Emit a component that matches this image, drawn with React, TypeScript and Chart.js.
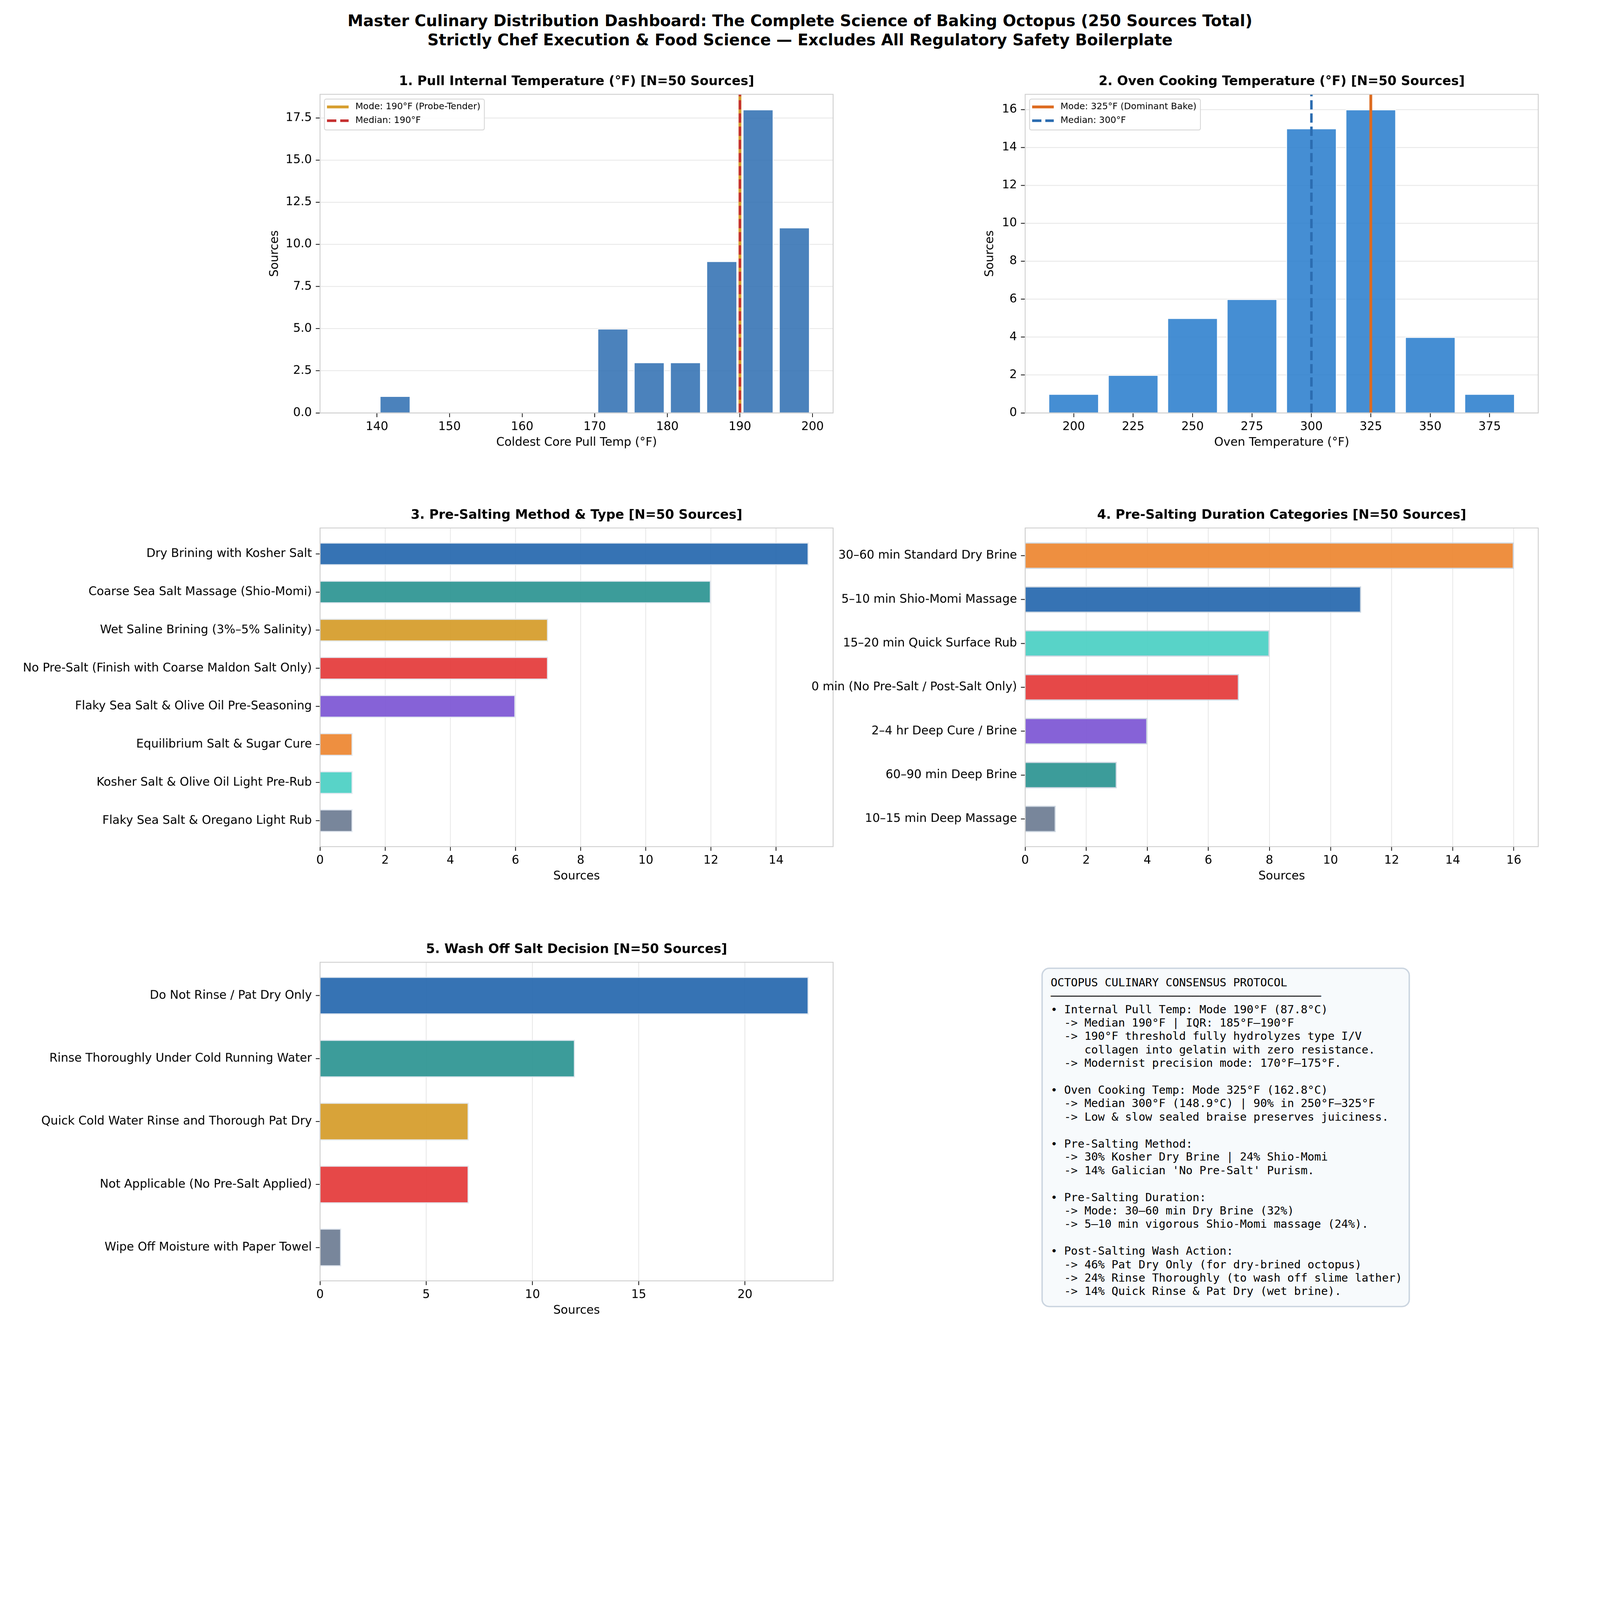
import { useEffect, useRef } from 'react';
import { Chart, registerables } from 'chart.js';

Chart.register(...registerables);

const FONT = 'DejaVu Sans';

// 1. pull temperature histogram (5°F bins, centres)
const pullBins = [142.5, 172.5, 177.5, 182.5, 187.5, 192.5, 197.5];
const pullCounts = [1, 5, 3, 3, 9, 18, 11];
const pullXTicks = [140, 150, 160, 170, 180, 190, 200];
const pullYTicks = [0, 2.5, 5, 7.5, 10, 12.5, 15, 17.5];
const pullYMax = 18.9;
const pullMode = 190;
const pullMedian = 190;

// 2. oven temperature
const ovenTemps = [200, 225, 250, 275, 300, 325, 350, 375];
const ovenCounts = [1, 2, 5, 6, 15, 16, 4, 1];
const ovenYTicks = [0, 2, 4, 6, 8, 10, 12, 14, 16];
const ovenYMax = 16.8;
const ovenMode = 325;
const ovenMedian = 300;

// 3. pre-salting method
const methodLabels = [
  'Dry Brining with Kosher Salt',
  'Coarse Sea Salt Massage (Shio-Momi)',
  'Wet Saline Brining (3%–5% Salinity)',
  'No Pre-Salt (Finish with Coarse Maldon Salt Only)',
  'Flaky Sea Salt & Olive Oil Pre-Seasoning',
  'Equilibrium Salt & Sugar Cure',
  'Kosher Salt & Olive Oil Light Pre-Rub',
  'Flaky Sea Salt & Oregano Light Rub',
];
const methodCounts = [15, 12, 7, 7, 6, 1, 1, 1];
const methodColors = ['#2b6cb0', '#319795', '#d69e2e', '#e53e3e', '#805ad5', '#ed8936', '#4fd1c5', '#718096'];
const methodXTicks = [0, 2, 4, 6, 8, 10, 12, 14];

// 4. pre-salting duration
const durationLabels = [
  '30–60 min Standard Dry Brine',
  '5–10 min Shio-Momi Massage',
  '15–20 min Quick Surface Rub',
  '0 min (No Pre-Salt / Post-Salt Only)',
  '2–4 hr Deep Cure / Brine',
  '60–90 min Deep Brine',
  '10–15 min Deep Massage',
];
const durationCounts = [16, 11, 8, 7, 4, 3, 1];
const durationColors = ['#ed8936', '#2b6cb0', '#4fd1c5', '#e53e3e', '#805ad5', '#319795', '#718096'];
const durationXTicks = [0, 2, 4, 6, 8, 10, 12, 14, 16];

// 5. wash off decision
const washLabels = [
  'Do Not Rinse / Pat Dry Only',
  'Rinse Thoroughly Under Cold Running Water',
  'Quick Cold Water Rinse and Thorough Pat Dry',
  'Not Applicable (No Pre-Salt Applied)',
  'Wipe Off Moisture with Paper Towel',
];
const washCounts = [23, 12, 7, 7, 1];
const washColors = ['#2b6cb0', '#319795', '#d69e2e', '#e53e3e', '#718096'];
const washXTicks = [0, 5, 10, 15, 20];

const summaryLines = [
  'OCTOPUS CULINARY CONSENSUS PROTOCOL',
  '────────────────────────────────────────',
  '• Internal Pull Temp: Mode 190°F (87.8°C)',
  '  -> Median 190°F | IQR: 185°F–190°F',
  '  -> 190°F threshold fully hydrolyzes type I/V',
  '     collagen into gelatin with zero resistance.',
  '  -> Modernist precision mode: 170°F–175°F.',
  '',
  '• Oven Cooking Temp: Mode 325°F (162.8°C)',
  '  -> Median 300°F (148.9°C) | 90% in 250°F–325°F',
  '  -> Low & slow sealed braise preserves juiciness.',
  '',
  '• Pre-Salting Method:',
  '  -> 30% Kosher Dry Brine | 24% Shio-Momi',
  "  -> 14% Galician 'No Pre-Salt' Purism.",
  '',
  '• Pre-Salting Duration:',
  '  -> Mode: 30–60 min Dry Brine (32%)',
  '  -> 5–10 min vigorous Shio-Momi massage (24%).',
  '',
  '• Post-Salting Wash Action:',
  '  -> 46% Pat Dry Only (for dry-brined octopus)',
  '  -> 24% Rinse Thoroughly (to wash off slime lather)',
  '  -> 14% Quick Rinse & Pat Dry (wet brine).',
];

const PAGE_W = 5700;
const PAGE_H = 4800;
const AX_W = 1828;
const AX_H = 1135;
const TITLE_H = 73;
const BOTTOM_H = 160;
const RIGHT_PAD = 80;
const GRID = 'rgba(190, 190, 190, 0.35)';
const TICK_FONT = { family: FONT, size: 42 };
const LABEL_FONT = { family: FONT, size: 42, lineHeight: '50px' };

// spines + legend drawn inside the plot area
const panelDecor = {
  id: 'panelDecor',
  afterDraw(chart: any) {
    const { ctx, chartArea: a } = chart;
    ctx.save();
    ctx.strokeStyle = '#cccccc';
    ctx.lineWidth = 3;
    ctx.strokeRect(a.left, a.top, a.right - a.left, a.bottom - a.top);

    const items = chart.data.datasets.filter((d: any) => d.type === 'line');
    if (items.length) {
      ctx.font = `32px "${FONT}"`;
      const textW = Math.max(...items.map((d: any) => ctx.measureText(d.label).width));
      const x0 = a.left + 16;
      const y0 = a.top + 17;
      const w = 110 + textW + 14;
      const h = 28 + 49 * (items.length - 1) + 33;
      ctx.beginPath();
      ctx.roundRect(x0, y0, w, h, 6);
      ctx.fillStyle = 'rgba(255,255,255,0.85)';
      ctx.fill();
      ctx.strokeStyle = '#d5d5d5';
      ctx.lineWidth = 3;
      ctx.stroke();
      items.forEach((d: any, i: number) => {
        const cy = y0 + 28 + i * 49;
        ctx.beginPath();
        ctx.setLineDash(d.borderDash || []);
        ctx.strokeStyle = d.borderColor;
        ctx.lineWidth = d.borderWidth;
        ctx.moveTo(x0 + 9, cy);
        ctx.lineTo(x0 + 86, cy);
        ctx.stroke();
        ctx.setLineDash([]);
        ctx.fillStyle = '#000';
        ctx.textBaseline = 'middle';
        ctx.textAlign = 'left';
        ctx.fillText(d.label, x0 + 110, cy);
      });
    }
    ctx.restore();
  },
};

function baseOptions(title: string) {
  return {
    responsive: false,
    animation: false,
    devicePixelRatio: 1,
    layout: { padding: { right: RIGHT_PAD }, autoPadding: false },
    plugins: {
      legend: { display: false },
      tooltip: { enabled: false },
      title: {
        display: true,
        text: title,
        fullSize: false,
        color: '#000',
        font: { family: FONT, size: 46, weight: 'bold', lineHeight: '56px' },
        padding: { top: 0, bottom: 17 },
      },
    },
  };
}

function tickAxis(ticks: number[], extra: any) {
  return {
    type: 'linear',
    offset: false,
    border: { display: false },
    grid: { display: true, offset: false, drawOnChartArea: false, tickLength: 15, tickWidth: 3, tickColor: '#222' },
    ticks: { font: TICK_FONT, color: '#000', padding: 10, maxRotation: 0, autoSkip: false },
    afterBuildTicks: (s: any) => {
      s.ticks = ticks.map((v) => ({ value: v }));
    },
    ...extra,
  };
}

const GRID_ON = { display: true, offset: false, color: GRID, lineWidth: 3, tickLength: 15, tickWidth: 3, tickColor: '#222' };

function histConfig(
  title: string, xTitle: string, bins: number[], counts: number[], color: string,
  xMin: number, xMax: number, xTicks: number[], yTicks: number[], yMax: number, yDigits: number,
  mode: number, modeLabel: string, modeColor: string, median: number, medianLabel: string, medianColor: string,
  yTitlePad: number,
) {
  const opts: any = baseOptions(title);
  opts.scales = {
    x: tickAxis(xTicks, {
      min: xMin,
      max: xMax,
      afterFit: (s: any) => { s.height = BOTTOM_H; },
      title: { display: true, text: xTitle, color: '#000', font: LABEL_FONT, padding: { top: 0, bottom: 29 } },
    }),
    y: tickAxis(yTicks, {
      min: 0,
      max: yMax,
      z: 1,
      grid: GRID_ON,
      ticks: { font: TICK_FONT, color: '#000', padding: 14, autoSkip: false, callback: (v: any) => Number(v).toFixed(yDigits) },
      afterFit: (s: any) => { s.width = 220; },
      title: { display: true, text: 'Sources', color: '#000', font: LABEL_FONT, padding: { top: yTitlePad, bottom: 0 } },
    }),
  };
  return {
    type: 'bar',
    data: {
      datasets: [
        {
          type: 'line',
          label: modeLabel,
          data: [{ x: mode, y: 0 }, { x: mode, y: yMax }],
          borderColor: modeColor,
          borderWidth: 10,
          pointRadius: 0,
          fill: false,
          order: 2,
        },
        {
          type: 'line',
          label: medianLabel,
          data: [{ x: median, y: 0 }, { x: median, y: yMax }],
          borderColor: medianColor,
          borderWidth: 9,
          borderDash: [33, 14],
          pointRadius: 0,
          fill: false,
          order: 1,
        },
        {
          type: 'bar',
          label: 'Sources',
          data: bins.map((b, i) => ({ x: b, y: counts[i] })),
          backgroundColor: color,
          borderColor: '#ffffff',
          borderWidth: 3,
          barPercentage: 0.85,
          categoryPercentage: 1,
          order: 3,
        },
      ],
    },
    options: opts,
    plugins: [panelDecor],
  };
}

function hbarConfig(
  title: string, labels: string[], counts: number[], colors: string[], xMax: number, xTicks: number[],
  leftW: number, edge: string,
) {
  const n = labels.length;
  const margin = 0.05 * (n - 1 + 0.6);
  const opts: any = baseOptions(title);
  opts.indexAxis = 'y';
  opts.scales = {
    x: tickAxis(xTicks, {
      min: 0,
      max: xMax,
      z: 1,
      grid: GRID_ON,
      afterFit: (s: any) => { s.height = BOTTOM_H; },
      title: { display: true, text: 'Sources', color: '#000', font: LABEL_FONT, padding: { top: 0, bottom: 29 } },
    }),
    y: tickAxis(labels.map((_, i) => i), {
      min: -0.3 - margin,
      max: n - 1 + 0.3 + margin,
      reverse: true,
      ticks: { font: TICK_FONT, color: '#000', padding: 14, autoSkip: false, callback: (v: any) => labels[v] ?? '' },
      afterFit: (s: any) => { s.width = leftW; },
    }),
  };
  return {
    type: 'bar',
    data: {
      datasets: [
        {
          label: 'Sources',
          data: labels.map((_, i) => ({ x: counts[i], y: i })),
          backgroundColor: colors.map((c) => c + 'f2'),
          borderColor: edge,
          borderWidth: 4,
          barPercentage: 0.6,
          categoryPercentage: 1,
        },
      ],
    },
    options: opts,
    plugins: [panelDecor],
  };
}

function ChartPanel({ left, top, leftW, config }: { left: number; top: number; leftW: number; config: () => any }) {
  const ref = useRef<HTMLCanvasElement>(null);
  useEffect(() => {
    if (!ref.current) return;
    const chart = new Chart(ref.current, config());
    return () => chart.destroy();
  }, []);
  return (
    <canvas
      ref={ref}
      width={leftW + AX_W + RIGHT_PAD}
      height={TITLE_H + AX_H + BOTTOM_H}
      style={{ position: 'absolute', left: left - leftW, top: top - TITLE_H }}
    />
  );
}

export default function App() {
  // fit the 5700x4800 figure into whatever CSS viewport the window gives
  const fit = Math.min(window.innerWidth / PAGE_W, window.innerHeight / PAGE_H) || 1;
  return (
    <div style={{ position: 'fixed', left: 0, top: 0, right: 0, bottom: 0, overflow: 'hidden', background: '#fff' }}>
      <div
        style={{
          position: 'absolute', left: 0, top: 0, width: PAGE_W, height: PAGE_H, background: '#fff',
          transform: `scale(${fit})`, transformOrigin: '0 0',
        }}
      >
        <div
          style={{
            position: 'absolute', left: 0, top: 39, width: PAGE_W, textAlign: 'center',
            fontFamily: FONT, fontWeight: 'bold', fontSize: 56, lineHeight: '69px', color: '#000',
          }}
        >
          <div>Master Culinary Distribution Dashboard: The Complete Science of Baking Octopus (250 Sources Total)</div>
          <div>Strictly Chef Execution &amp; Food Science — Excludes All Regulatory Safety Boilerplate</div>
        </div>

        <ChartPanel
          left={1140} top={336} leftW={220}
          config={() => histConfig(
            '1. Pull Internal Temperature (°F) [N=50 Sources]', 'Coldest Core Pull Temp (°F)',
            pullBins, pullCounts, 'rgba(43,108,176,0.85)', 132.16, 202.84, pullXTicks, pullYTicks, pullYMax, 1,
            pullMode, 'Mode: 190°F (Probe-Tender)', '#d69e2e', pullMedian, 'Median: 190°F', '#c53030', 34,
          )}
        />
        <ChartPanel
          left={3652} top={336} leftW={220}
          config={() => histConfig(
            '2. Oven Cooking Temperature (°F) [N=50 Sources]', 'Oven Temperature (°F)',
            ovenTemps, ovenCounts, 'rgba(49,130,206,0.9)', 179.56, 395.44, ovenTemps, ovenYTicks, ovenYMax, 0,
            ovenMode, 'Mode: 325°F (Dominant Bake)', '#dd6b20', ovenMedian, 'Median: 300°F', '#2b6cb0', 70,
          )}
        />
        <ChartPanel
          left={1140} top={1881} leftW={1100}
          config={() => hbarConfig('3. Pre-Salting Method & Type [N=50 Sources]', methodLabels, methodCounts, methodColors, 15.75, methodXTicks, 1100, '#e2e8f0')}
        />
        <ChartPanel
          left={3652} top={1881} leftW={820}
          config={() => hbarConfig('4. Pre-Salting Duration Categories [N=50 Sources]', durationLabels, durationCounts, durationColors, 16.8, durationXTicks, 820, '#cbd5e0')}
        />
        <ChartPanel
          left={1140} top={3428} leftW={1000}
          config={() => hbarConfig('5. Wash Off Salt Decision [N=50 Sources]', washLabels, washCounts, washColors, 24.15, washXTicks, 1000, '#e2e8f0')}
        />

        <pre
          style={{
            position: 'absolute', left: 3710, top: 3447, width: 1313, height: 1210, boxSizing: 'border-box', margin: 0,
            border: '5px solid #cbd5e0', borderRadius: 28, background: '#f7fafc',
            padding: '25px 0 0 28px', fontFamily: '"DejaVu Sans Mono"', fontSize: 40, lineHeight: '47.8px',
            color: '#000', whiteSpace: 'pre', overflow: 'visible',
          }}
        >
          {summaryLines.join('\n')}
        </pre>
      </div>
    </div>
  );
}
